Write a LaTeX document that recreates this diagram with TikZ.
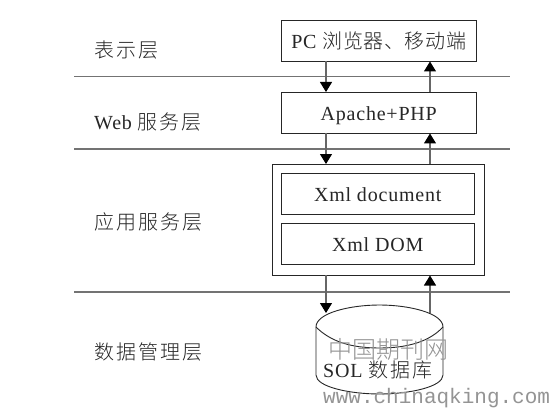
\documentclass[tikz,border=0pt]{standalone}
\usepackage{fontspec}
\setmainfont{Liberation Serif}[LetterSpace=4]
\newfontfamily\cjk{Noto Sans CJK SC Light}[Scale=1.0,LetterSpace=10]
\newfontfamily\cjktight{Noto Sans CJK SC Light}[Scale=1.0,LetterSpace=3]
\newfontfamily\wmcjk{Noto Sans CJK SC Light}[Scale=1.0]
\newfontfamily\wm{Liberation Mono}
\usetikzlibrary{arrows.meta,shapes.geometric}
\tikzset{
  boxnode/.style={draw=black!85,line width=0.9pt,inner sep=0pt,fill=white,font=\fontsize{20}{22}\selectfont,text=black!85,text height=16pt,text depth=0pt},
  layerline/.style={draw=black!55,line width=1.5pt},
  flow/.style={draw=black!60,line width=1.1pt,-{Triangle[black,length=10pt,width=12pt]}},
  lab/.style={font=\fontsize{20}{22}\selectfont,text=black!85,inner sep=0pt,text height=16pt,text depth=0pt},
  labl/.style={lab,anchor=west},
  wmark/.style={inner sep=0pt,text=black!42,anchor=west}
}
\begin{document}
\begin{tikzpicture}[x=1pt,y=-1pt]
\useasboundingbox[fill=white] (0,0) rectangle (554,409);
% layer lines
\coordinate (l1a) at (74,76.5); \coordinate (l1b) at (510,76.5);
\coordinate (l2a) at (74,149); \coordinate (l2b) at (510,149);
\coordinate (l3a) at (74,292); \coordinate (l3b) at (510,292);
\draw[layerline] (l1a) -- (l1b);
\draw[layerline] (l2a) -- (l2b);
\draw[layerline] (l3a) -- (l3b);
% boxes
\node[boxnode,minimum width=194.5pt,minimum height=40.5pt] (pc) at (378.75,40.75) {PC\hspace{6pt}{\cjktight 浏览器、移动端}};
\node[boxnode,minimum width=194.5pt,minimum height=40.5pt] (web) at (378.75,112.75) {Apache+PHP};
\node[boxnode,minimum width=211.5pt,minimum height=111pt] (app) at (378.25,219.5) {};
\node[boxnode,minimum width=193.5pt,minimum height=40.5pt] (xdoc) at (377.75,193.75) {Xml document};
\node[boxnode,minimum width=193.5pt,minimum height=41pt] (xdom) at (377.75,243.5) {Xml DOM};
% database
\coordinate (dbtl) at (316,327);
\coordinate (dbtr) at (443,327);
\coordinate (dbbl) at (316,375);
\coordinate (dbbr) at (443,375);
\draw[draw=black!85,line width=0.9pt,fill=white]
  (dbtl) .. controls (316,313) and (350,305) .. (379.5,305)
         .. controls (409,305) and (443,313) .. (dbtr)
  -- (dbbr) .. controls (443,387) and (409,394) .. (379.5,394)
         .. controls (350,394) and (316,387) .. (dbbl) -- cycle;
\draw[draw=black!85,line width=0.9pt]
  (dbtl) .. controls (330,341) and (350,348) .. (379.5,348)
         .. controls (409,348) and (430,341) .. (dbtr);
\coordinate (dbin) at (326,313);
\coordinate (dbout) at (430,313);
\node[labl] (dbt) at (323,369) {SOL\hspace{6pt}{\cjk 数据库}};
% connectors
\coordinate (d1a) at (326,61); \coordinate (d1b) at (326,92);
\coordinate (u1a) at (430,92); \coordinate (u1b) at (430,61.5);
\coordinate (d2a) at (326,133); \coordinate (d2b) at (326,164);
\coordinate (u2a) at (430,164); \coordinate (u2b) at (430,133.5);
\coordinate (d3a) at (326,275); \coordinate (u3b) at (430,275.5);
\draw[flow] (d1a) -- (d1b);
\draw[flow] (u1a) -- (u1b);
\draw[flow] (d2a) -- (d2b);
\draw[flow] (u2a) -- (u2b);
\draw[flow] (d3a) -- (dbin);
\draw[flow] (dbout) -- (u3b);
% layer names
\node[labl] (n1) at (94,50) {\cjk 表示层};
\node[labl] (n2) at (94,122) {Web\hspace{6pt}{\cjk 服务层}};
\node[labl] (n3) at (94,221) {\cjk 应用服务层};
\node[labl] (n4) at (94,351) {\cjk 数据管理层};
% watermark
\node[wmark,font=\wmcjk\fontsize{24}{26}\selectfont] (w1) at (328,349) {中国期刊网};
\node[wmark,font=\wm\fontsize{21}{24}\selectfont] (w2) at (323,398) {www.chinaqking.com};
\end{tikzpicture}
\end{document}
